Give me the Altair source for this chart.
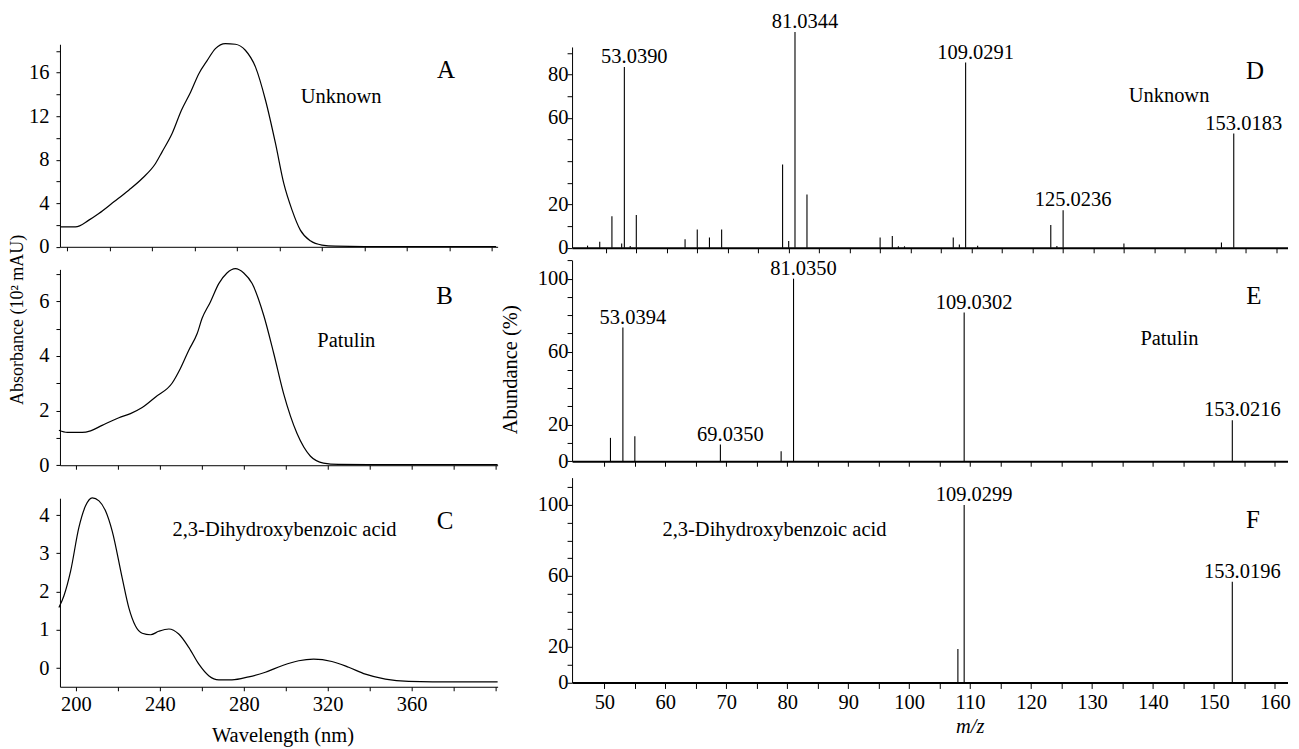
import altair as alt
import pandas as pd

FONT = "Liberation Serif"
FS = 20.5

# ---------------- UV spectra (left) ----------------
a_nm = [196.9, 203.9, 210.2, 214.9, 222.0, 229.0, 235.3, 241.6, 244.7, 249.4, 253.8, 258.1, 262.0,
        265.9, 269.8, 274.5, 279.2, 283.9, 288.7, 293.4, 298.1, 302.0, 305.9, 309.8, 314.5, 320.0,
        326.3, 340.0, 360.0, 380.0, 402.0]
a_abs = [1.83, 1.83, 2.45, 3.06, 4.13, 5.2, 6.27, 7.65, 8.72, 10.4, 12.54, 14.2, 15.9,
         17.1, 18.2, 18.66, 18.6, 18.05, 16.5, 13.46, 9.49, 5.82, 3.37, 1.53, 0.55, 0.16,
         0.06, 0.03, 0.03, 0.03, 0.03]

b_nm = [191.9, 195.9, 203.0, 207.0, 212.5, 220.5, 226.0, 231.6, 238.0, 245.9, 249.8, 253.8, 257.8,
        260.1, 264.1, 268.1, 272.0, 276.0, 280.0, 284.0, 289.5, 294.3, 299.0, 305.4, 311.8, 318.0,
        325.2, 340.0, 360.0, 380.0, 401.0]
b_abs = [1.28, 1.20, 1.20, 1.26, 1.46, 1.74, 1.89, 2.11, 2.50, 3.01, 3.54, 4.21, 4.82,
         5.37, 5.98, 6.65, 7.04, 7.20, 7.04, 6.65, 5.49, 4.09, 2.62, 1.16, 0.33, 0.08,
         0.03, 0.02, 0.02, 0.02, 0.02]

c_nm = [191.9, 194.3, 197.5, 201.4, 204.6, 207.8, 211.0, 214.1, 217.3, 222.0, 225.2, 228.4, 231.6,
        235.6, 239.5, 244.3, 249.0, 253.8, 258.6, 263.3, 268.1, 274.4, 282.4, 290.3, 298.2, 306.2,
        313.3, 322.0, 330.0, 338.0, 347.5, 358.6, 370.0, 385.0, 401.0]
c_abs = [1.58, 1.89, 2.54, 3.67, 4.24, 4.45, 4.37, 4.11, 3.58, 2.37, 1.58, 1.10, 0.91,
         0.87, 0.96, 1.02, 0.89, 0.54, 0.10, -0.20, -0.31, -0.31, -0.23, -0.11, 0.06, 0.19,
         0.23, 0.17, 0.02, -0.16, -0.29, -0.35, -0.36, -0.36, -0.36]

# ---------------- MS spectra (right) ----------------
d_mz = [47, 49, 51, 52.6, 53.0390, 54, 55, 63, 65, 67, 69, 79, 80, 81.0344, 83, 95, 97, 98, 99,
        107, 108, 109.0291, 111, 123, 124, 125.0236, 135, 151, 153.0183]
d_ab = [1.0, 2.8, 14.6, 2.0, 83.5, 0.8, 15.1, 3.9, 8.5, 4.8, 8.5, 38.5, 3.2, 99.7, 24.6, 4.8, 5.4,
        0.7, 0.7, 4.8, 1.5, 85.6, 1.0, 10.5, 0.8, 17.4, 2.0, 2.5, 52.8]
d_lab = ["", "", "", "", "53.0390", "", "", "", "", "", "", "", "", "81.0344", "", "", "", "", "",
         "", "", "109.0291", "", "", "", "125.0236", "", "", "153.0183"]

e_mz = [51, 53.0394, 55, 69.0350, 79, 81.0350, 109.0302, 153.0216]
e_ab = [12.8, 73.2, 13.7, 9.1, 5.5, 100, 81.4, 22.4]
e_lab = ["", "53.0394", "", "69.0350", "", "81.0350", "109.0302", "153.0216"]

f_mz = [108.0, 109.0299, 153.0196]
f_ab = [18.8, 100, 56.7]
f_lab = ["", "109.0299", "153.0196"]

# panel annotations (data units): letter, compound name
letters = ["A", "B", "C", "D", "E", "F"]
letter_x = [378.4, 375.7, 375.9, 156.5, 156.55, 156.4]
letter_y = [15.54, 5.92, 3.63, 77.8, 86.3, 87.2]
names = ["Unknown", "Patulin", "2,3-Dihydroxybenzoic acid", "Unknown", "Patulin", "2,3-Dihydroxybenzoic acid"]
name_x = [329.0, 328.9, 299.4, 142.4, 142.7, 77.9]
name_y = [13.2, 4.33, 3.45, 67.4, 63.5, 82.6]

LEFT_W = 438
RIGHT_W = 716


def ann_layers(i, X, Y, xf, yf):
    let_df = pd.DataFrame({xf: [letter_x[i]], yf: [letter_y[i]], "t": [letters[i]]})
    nam_df = pd.DataFrame({xf: [name_x[i]], yf: [name_y[i]], "t": [names[i]]})
    l1 = alt.Chart(let_df).mark_text(font=FONT, fontSize=25, align="center", baseline="alphabetic",
                                     color="black").encode(x=X, y=Y, text="t:N")
    l2 = alt.Chart(nam_df).mark_text(font=FONT, fontSize=FS, align="center", baseline="alphabetic",
                                     color="black").encode(x=X, y=Y, text="t:N")
    return [l1, l2]


def uv_panel(i, nm, ab, xdom, ydom, yrange, height, xaxis, yaxis):
    df = pd.DataFrame({"nm": nm, "val": ab})
    X = alt.X("nm:Q", scale=alt.Scale(domain=xdom, nice=False, zero=False), axis=xaxis)
    Y = alt.Y("val:Q", scale=alt.Scale(domain=ydom, range=yrange, nice=False, zero=False), axis=yaxis)
    line = alt.Chart(df).mark_line(color="black", strokeWidth=1.2, interpolate="monotone").encode(x=X, y=Y)
    return alt.layer(line, *ann_layers(i, X, Y, "nm", "val")).properties(width=LEFT_W, height=height)


def ms_panel(i, mz, ab, lab, xdom, ydom, yrange, height, xaxis, yaxis):
    df = pd.DataFrame({"mz": mz, "ab": ab, "base": [0.0] * len(mz), "lab": lab})
    X = alt.X("mz:Q", scale=alt.Scale(domain=xdom, nice=False, zero=False), axis=xaxis)
    Y = alt.Y("ab:Q", scale=alt.Scale(domain=ydom, range=yrange, nice=False, zero=False), axis=yaxis)
    rules = alt.Chart(df).mark_rule(color="black", strokeWidth=1.1).encode(x=X, y=Y, y2=alt.Y2("base:Q"))
    labels = alt.Chart(df).transform_filter("datum.lab != ''").mark_text(
        font=FONT, fontSize=FS, align="center", baseline="alphabetic", dx=10, dy=-4, color="black"
    ).encode(x=X, y=Y, text="lab:N")
    return alt.layer(rules, labels, *ann_layers(i, X, Y, "mz", "ab")).properties(width=RIGHT_W, height=height)


common = dict(format="d", labelOverlap=False, labelFlush=False, grid=False)

# ---------- axes ----------
uv_x_vals = list(range(200, 401, 20))
uv_x_plain = alt.Axis(values=uv_x_vals, labels=False, tickSize=4, title=None, **common)
uv_x_lab = alt.Axis(values=uv_x_vals, tickSize=4, labelPadding=4,
                    labelExpr="datum.value % 40 == 0 && datum.value <= 360 ? datum.label : ''",
                    title="Wavelength (nm)", titleX=222.7, titleY=55, titleBaseline="alphabetic", **common)

ya = alt.Axis(values=list(range(0, 19, 2)), tickSize=4, labelPadding=7,
              labelExpr="datum.value % 4 == 0 ? datum.label : ''", title=None, **common)
yb = alt.Axis(values=list(range(0, 8)), tickSize=4, labelPadding=7,
              labelExpr="datum.value % 2 == 0 ? datum.label : ''",
              title="Absorbance (10² mAU)", titleFontSize=18, titleX=-33, titleY=71.3, **common)
yc = alt.Axis(values=[0, 0.5, 1, 1.5, 2, 2.5, 3, 3.5, 4], tickSize=4, labelPadding=7,
              labelExpr="(datum.value == 0 || datum.value == 1 || datum.value == 2 || datum.value == 3 || datum.value == 4) ? datum.label : ''",
              title=None, **common)

ms_x_vals = list(range(50, 161, 5))
ms_x_plain = alt.Axis(values=ms_x_vals, labels=False, tickSize=5, domainWidth=2, title=None, **common)
ms_x_lab = alt.Axis(values=ms_x_vals, tickSize=6, labelPadding=4, domainWidth=2,
                    labelExpr="datum.value % 10 == 0 ? datum.label : ''",
                    title="m/z", titleFontStyle="italic", titleX=398, titleY=50, titleBaseline="alphabetic",
                    **common)

yd = alt.Axis(values=list(range(0, 91, 10)), tickSize=5, labelPadding=-1,
              labelExpr="indexof([0, 20, 60, 80], datum.value) >= 0 ? datum.label : ''", title=None, **common)
ye = alt.Axis(values=list(range(0, 111, 10)), tickSize=5, labelPadding=-1,
              labelExpr="indexof([0, 20, 60, 100], datum.value) >= 0 ? datum.label : ''",
              title="Abundance (%)", titleX=-52, titleY=121.3, **common)
yf = alt.Axis(values=list(range(0, 111, 10)), tickSize=5, labelPadding=-1,
              labelExpr="indexof([0, 20, 60, 100], datum.value) >= 0 ? datum.label : ''", title=None, **common)

pA = uv_panel(0, a_nm, a_abs, [196.6, 402.7], [0, 18.6], [238.7, 36], 238.7, uv_x_plain, ya)
pB = uv_panel(1, b_nm, b_abs, [192.4, 401.0], [0, 7.17], [217.3, 21.3], 217.3, uv_x_plain, yb)
pC = uv_panel(2, c_nm, c_abs, [192.4, 401.0], [-0.49, 4.44], [221, 32.3], 221, uv_x_lab, yc)

pD = ms_panel(3, d_mz, d_ab, d_lab, [44.46, 44.46 + RIGHT_W / 6.1], [0, 92.8], [239.7, 38.7], 239.7, ms_x_plain, yd)
pE = ms_panel(4, e_mz, e_ab, e_lab, [44.7, 44.7 + RIGHT_W / 6.1], [0, 110], [213.3, 12.3], 213.3, ms_x_plain, ye)
pF = ms_panel(5, f_mz, f_ab, f_lab, [44.7, 44.7 + RIGHT_W / 6.1], [0, 115.4], [216.7, 11.7], 216.7, ms_x_lab, yf)

chart = alt.concat(
    pA, pD, pB, pE, pC, pF, columns=2, spacing={"row": 0, "column": 74.5}, bounds="flush"
).properties(
    padding={"left": 0, "top": 0, "right": 0, "bottom": 0}
).configure_view(
    strokeWidth=0
).configure_axis(
    labelFont=FONT, titleFont=FONT, labelFontSize=FS, titleFontSize=FS, titleFontWeight="normal",
    domainColor="black", tickColor="black", labelColor="black", titleColor="black",
    grid=False, labelFlush=False, labelOverlap=False, domainWidth=1, tickWidth=1
)

chart.save("out.html", embed_options={"renderer": "svg", "actions": False})
